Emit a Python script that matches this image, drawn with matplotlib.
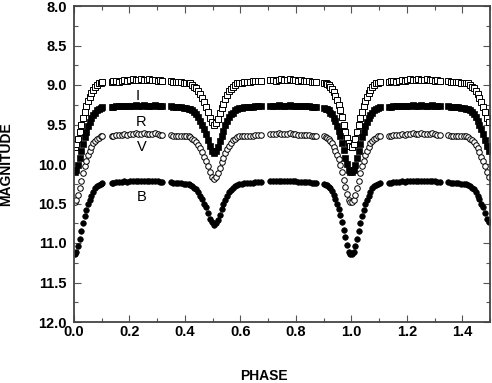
import numpy as np
import matplotlib
matplotlib.use("Agg")
import matplotlib.pyplot as plt
from matplotlib.ticker import MultipleLocator

plt.rcParams["font.family"] = ["Liberation Sans", "DejaVu Sans"]

Y_LABEL = "MAGNITUDE"
X_LABEL = "PHASE"
X_START = 0.0
X_END = 1.5
Y_START = 12.0
Y_END = 8.0

# phases of the observations (0..1), phases < 0.5 are plotted again at +1
PHASE = [0.003, 0.009, 0.015, 0.021, 0.027, 0.033, 0.039, 0.045, 0.051, 0.057, 0.063, 0.069, 0.075, 0.082, 0.090, 0.097, 0.102,
         0.136, 0.142, 0.152, 0.162, 0.172, 0.182, 0.192, 0.202, 0.212, 0.222, 0.232, 0.242, 0.252, 0.262, 0.272, 0.282, 0.292, 0.302, 0.310, 0.318,
         0.350, 0.358, 0.366, 0.376, 0.386, 0.396, 0.405,
         0.413, 0.420, 0.427, 0.434, 0.441, 0.448, 0.455, 0.462, 0.469, 0.476, 0.483, 0.490, 0.497, 0.504, 0.511, 0.518, 0.525, 0.532, 0.539, 0.546, 0.553, 0.560, 0.567, 0.574, 0.581, 0.588, 0.595,
         0.604, 0.614, 0.624, 0.634, 0.644, 0.654, 0.664, 0.674,
         0.708, 0.718, 0.728, 0.738, 0.748, 0.758, 0.768, 0.778, 0.788, 0.798, 0.808, 0.818, 0.828, 0.838, 0.848, 0.858, 0.866, 0.873,
         0.903, 0.908, 0.913, 0.918, 0.924, 0.930, 0.936, 0.942, 0.948, 0.954, 0.960, 0.966, 0.972, 0.978, 0.984, 0.990, 0.996]

MAG_I = [9.78, 9.75, 9.68, 9.60, 9.51, 9.42, 9.34, 9.27, 9.20, 9.15, 9.10, 9.06, 9.03, 9.00, 8.98, 8.97, 8.96,
         8.96, 8.95, 8.95, 8.96, 8.95, 8.94, 8.95, 8.94, 8.93, 8.94, 8.94, 8.93, 8.94, 8.94, 8.93, 8.94, 8.94, 8.95, 8.94, 8.95,
         8.95, 8.96, 8.96, 8.96, 8.96, 8.97, 8.97,
         8.97, 8.98, 9.00, 9.02, 9.04, 9.08, 9.12, 9.16, 9.22, 9.28, 9.34, 9.42, 9.47, 9.50, 9.48, 9.43, 9.36, 9.29, 9.24, 9.18, 9.13, 9.08, 9.05, 9.02, 9.00, 8.98, 8.97,
         8.97, 8.96, 8.96, 8.96, 8.95, 8.95, 8.95, 8.95,
         8.94, 8.94, 8.95, 8.94, 8.93, 8.94, 8.94, 8.93, 8.94, 8.94, 8.95, 8.94, 8.95, 8.95, 8.95, 8.96, 8.96, 8.96,
         8.97, 8.98, 8.99, 9.00, 9.02, 9.05, 9.09, 9.14, 9.19, 9.25, 9.32, 9.41, 9.50, 9.59, 9.67, 9.74, 9.77]

MAG_R = [10.10, 10.08, 10.01, 9.93, 9.84, 9.75, 9.66, 9.59, 9.52, 9.47, 9.42, 9.38, 9.35, 9.32, 9.30, 9.29, 9.28,
         9.28, 9.28, 9.27, 9.27, 9.27, 9.26, 9.27, 9.26, 9.26, 9.25, 9.26, 9.26, 9.25, 9.26, 9.26, 9.26, 9.25, 9.26, 9.27, 9.27,
         9.27, 9.28, 9.28, 9.28, 9.28, 9.29, 9.29,
         9.30, 9.31, 9.32, 9.34, 9.37, 9.40, 9.45, 9.50, 9.56, 9.62, 9.69, 9.77, 9.83, 9.86, 9.84, 9.79, 9.71, 9.64, 9.58, 9.51, 9.46, 9.41, 9.37, 9.35, 9.32, 9.31, 9.29,
         9.29, 9.28, 9.28, 9.28, 9.28, 9.27, 9.27, 9.27,
         9.26, 9.26, 9.26, 9.25, 9.26, 9.26, 9.26, 9.25, 9.26, 9.26, 9.27, 9.27, 9.27, 9.27, 9.27, 9.28, 9.28, 9.28,
         9.29, 9.30, 9.31, 9.32, 9.35, 9.37, 9.42, 9.46, 9.52, 9.58, 9.65, 9.73, 9.82, 9.92, 10.00, 10.07, 10.10]

MAG_V = [10.48, 10.45, 10.39, 10.31, 10.21, 10.12, 10.03, 9.96, 9.89, 9.84, 9.79, 9.74, 9.71, 9.68, 9.67, 9.65, 9.64,
         9.64, 9.64, 9.63, 9.63, 9.63, 9.62, 9.63, 9.62, 9.62, 9.61, 9.62, 9.62, 9.61, 9.62, 9.62, 9.62, 9.61, 9.62, 9.63, 9.63,
         9.63, 9.64, 9.64, 9.64, 9.64, 9.65, 9.65,
         9.65, 9.66, 9.68, 9.70, 9.72, 9.76, 9.80, 9.85, 9.91, 9.96, 10.03, 10.10, 10.16, 10.19, 10.17, 10.12, 10.05, 9.98, 9.92, 9.86, 9.81, 9.77, 9.73, 9.70, 9.68, 9.66, 9.65,
         9.65, 9.64, 9.64, 9.64, 9.64, 9.63, 9.63, 9.63,
         9.62, 9.62, 9.62, 9.61, 9.62, 9.62, 9.62, 9.61, 9.62, 9.62, 9.63, 9.63, 9.63, 9.63, 9.63, 9.64, 9.64, 9.64,
         9.65, 9.66, 9.67, 9.68, 9.71, 9.74, 9.78, 9.83, 9.88, 9.94, 10.01, 10.10, 10.20, 10.29, 10.38, 10.45, 10.48]

MAG_B = [11.14, 11.11, 11.04, 10.95, 10.85, 10.75, 10.66, 10.58, 10.50, 10.45, 10.40, 10.35, 10.31, 10.28, 10.27, 10.25, 10.24,
         10.24, 10.24, 10.23, 10.23, 10.23, 10.22, 10.23, 10.22, 10.22, 10.21, 10.22, 10.22, 10.21, 10.22, 10.22, 10.22, 10.21, 10.22, 10.23, 10.23,
         10.23, 10.24, 10.24, 10.24, 10.24, 10.25, 10.25,
         10.25, 10.26, 10.28, 10.30, 10.32, 10.35, 10.40, 10.44, 10.50, 10.55, 10.62, 10.69, 10.74, 10.77, 10.75, 10.71, 10.64, 10.57, 10.51, 10.45, 10.41, 10.36, 10.33, 10.30, 10.28, 10.26, 10.25,
         10.25, 10.24, 10.24, 10.24, 10.24, 10.23, 10.23, 10.23,
         10.22, 10.22, 10.22, 10.21, 10.22, 10.22, 10.22, 10.21, 10.22, 10.22, 10.23, 10.23, 10.23, 10.23, 10.23, 10.24, 10.24, 10.24,
         10.25, 10.26, 10.27, 10.29, 10.31, 10.34, 10.39, 10.44, 10.50, 10.57, 10.64, 10.74, 10.83, 10.93, 11.03, 11.11, 11.14]

BANDS = ["I", "R", "V", "B"]
BAND_LABEL_X = [0.228, 0.243, 0.243, 0.243]
BAND_LABEL_Y = [9.14, 9.47, 9.78, 10.42]


def fold(phase, mag):
    phase = np.array(phase)
    mag = np.array(mag)
    again = phase < 0.5
    return np.concatenate([phase, phase[again] + 1]), np.concatenate([mag, mag[again]])


fig = plt.figure(figsize=(4.92, 3.83), dpi=100)
ax = fig.add_axes([74 / 492, 1 - 322 / 383, 416 / 492, 316 / 383])

x, y = fold(PHASE, MAG_I)
ax.plot(x, y, ls="none", marker="s", ms=3.8, mfc="white", mec="black", mew=0.7)
x, y = fold(PHASE, MAG_R)
ax.plot(x, y, ls="none", marker="s", ms=3.8, mfc="black", mec="black", mew=0.5)
x, y = fold(PHASE, MAG_V)
ax.plot(x, y, ls="none", marker="o", ms=4.0, mfc="white", mec="black", mew=0.7)
x, y = fold(PHASE, MAG_B)
ax.plot(x, y, ls="none", marker="o", ms=4.0, mfc="black", mec="black", mew=0.5)

for name, lx, ly in zip(BANDS, BAND_LABEL_X, BAND_LABEL_Y):
    ax.text(lx, ly, name, fontsize=10.5, ha="center", va="center")

ax.set_xlim(X_START, X_END)
ax.set_ylim(Y_START, Y_END)

ax.xaxis.set_major_locator(MultipleLocator(0.2))
ax.xaxis.set_minor_locator(MultipleLocator(0.1))
ax.yaxis.set_major_locator(MultipleLocator(0.5))
ax.yaxis.set_minor_locator(MultipleLocator(0.25))
ax.xaxis.set_major_formatter("{x:.1f}")
ax.yaxis.set_major_formatter("{x:.1f}")

ax.tick_params(which="both", direction="in", top=True, right=True, color="#555555", labelsize=10.5)
ax.tick_params(which="major", length=5, width=0.8)
ax.tick_params(which="minor", length=3, width=0.8)
ax.tick_params(axis="x", pad=2)
ax.tick_params(axis="y", pad=5)
for lab in ax.get_xticklabels() + ax.get_yticklabels():
    lab.set_fontweight("bold")
for sp in ax.spines.values():
    sp.set_color("#444444")
    sp.set_linewidth(1.3)

ax.set_xlabel(X_LABEL, fontsize=10, fontweight="bold")
ax.set_ylabel(Y_LABEL, fontsize=10, fontweight="bold")
ax.xaxis.set_label_coords(0.457, -0.150)
ax.yaxis.set_label_coords(-0.147, 0.5)

plt.savefig("out.png", dpi=100)
